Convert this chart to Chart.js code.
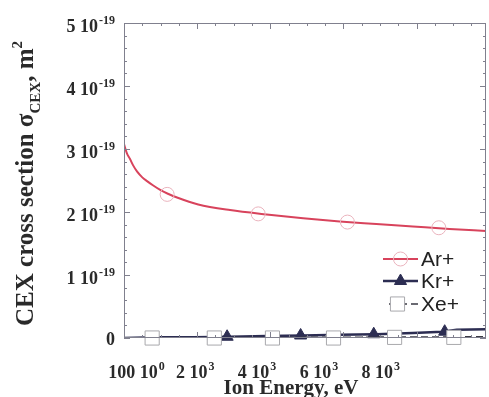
<!DOCTYPE html>
<html>
<head>
<meta charset="utf-8">
<script src="https://cdn.jsdelivr.net/npm/chart.js@4/dist/chart.umd.min.js"></script>
<style>
  html, body { margin: 0; padding: 0; background: #ffffff; }
  #wrap { width: 489px; height: 397px; }
</style>
</head>
<body>
<div id="wrap"><canvas id="c" width="489" height="397"></canvas></div>
<script>
// Charge-exchange (CEX) cross sections vs. ion energy.
// Cross sections are given in units of 1e-19 m^2, energies in eV.
const energyAr = [100, 130, 180, 265, 350, 460, 600, 730, 900, 1090, 1300, 1550, 2130, 3000, 4000, 5000, 6000, 7000, 8000, 9000, 10000];
const sigmaAr  = [3.08, 3.02, 2.93, 2.84, 2.74, 2.64, 2.55, 2.49, 2.42, 2.35, 2.29, 2.23, 2.12, 2.03, 1.96, 1.90, 1.85, 1.81, 1.77, 1.73, 1.70];
const markEnergyAr = [1280, 3770, 6210, 8710];
const markSigmaAr  = [2.28, 1.97, 1.84, 1.75];

const energyKr = [100, 1000, 2000, 3000, 4000, 5000, 6000, 7000, 8000, 8800, 9200, 10000];
const sigmaKr  = [0.00, 0.01, 0.01, 0.02, 0.03, 0.04, 0.05, 0.06, 0.08, 0.10, 0.13, 0.14];
const markEnergyKr = [2920, 4930, 6930, 8870];
const markSigmaKr  = [0.02, 0.04, 0.06, 0.10];

const energyXe = [100, 5000, 10000];
const sigmaXe  = [0.00, 0.01, 0.02];
const markEnergyXe = [870, 2570, 4160, 5830, 7500, 9120];
const markSigmaXe  = [0.00, 0.00, 0.00, 0.00, 0.01, 0.01];

// Axis ticks and their labels (mantissa + power of ten)
const xTickValues   = [100, 2000, 4000, 6000, 8000];
const xTickMantissa = ['100', '2', '4', '6', '8'];
const xTickExponent = ['0', '3', '3', '3', '3'];
const xMajorStep = 2000, xMinorStep = 500;

const yTickValues   = [0, 1, 2, 3, 4, 5];
const yTickMantissa = ['0', '1', '2', '3', '4', '5'];
const yTickExponent = ['', '-19', '-19', '-19', '-19', '-19'];
const yMajorStep = 1, yMinorStep = 0.2;

const seriesNames = ['Ar+', 'Kr+', 'Xe+'];

const AR_COLOR = '#d8435c';
const AR_MARK = '#eab3bd';
const KR_COLOR = '#2c2d52';
const XE_LINE = '#3a3a44';
const XE_MARK = '#a9a9ad';

const pts = (xs, ys) => xs.map((x, i) => ({ x: x, y: ys[i] }));

const SERIF = '"Liberation Serif", "Times New Roman", serif';
const SANS = '"Liberation Sans", Arial, sans-serif';

function drawPowerLabel(ctx, mant, exp, x, baseline, align, mainSize, supSize) {
  const mainFont = 'bold ' + mainSize + 'px ' + SERIF;
  const supFont = 'bold ' + supSize + 'px ' + SERIF;
  const mainText = exp ? mant + ' 10' : mant;
  ctx.font = mainFont;
  const wMain = ctx.measureText(mainText).width;
  ctx.font = supFont;
  const wSup = exp ? ctx.measureText(exp).width + 1 : 0;
  const total = wMain + wSup;
  let left = x;
  if (align === 'right') left = x - total;
  else if (align === 'center') left = x - total / 2;
  ctx.textAlign = 'left';
  ctx.textBaseline = 'alphabetic';
  ctx.font = mainFont;
  ctx.fillText(mainText, left, baseline);
  if (exp) {
    ctx.font = supFont;
    ctx.fillText(exp, left + wMain + 1, baseline - 8);
  }
}

const framePlugin = {
  id: 'frameAndText',
  afterDraw(chart) {
    const ctx = chart.ctx;
    const a = chart.chartArea;
    const xs = chart.scales.x, ys = chart.scales.y, xl = chart.scales.xl;
    ctx.save();

    // plot frame
    ctx.strokeStyle = '#80808e';
    ctx.lineWidth = 1;
    ctx.strokeRect(a.left + 0.5, a.top + 0.5, a.right - a.left - 1, a.bottom - a.top - 1);

    // inward tick marks on all four sides
    ctx.beginPath();
    for (let v = xs.min; v <= xs.max + 1e-6; v += xMinorStep) {
      const major = Math.abs(((v - xs.min) / xMajorStep) - Math.round((v - xs.min) / xMajorStep)) < 1e-6;
      const len = major ? 6 : 3;
      const px = Math.round(xs.getPixelForValue(v)) + 0.5;
      ctx.moveTo(px, a.bottom); ctx.lineTo(px, a.bottom - len);
      ctx.moveTo(px, a.top); ctx.lineTo(px, a.top + len);
    }
    for (let v = ys.min; v <= ys.max + 1e-6; v += yMinorStep) {
      const major = Math.abs(v / yMajorStep - Math.round(v / yMajorStep)) < 1e-6;
      const len = major ? 6 : 3;
      const py = Math.round(ys.getPixelForValue(v)) + 0.5;
      ctx.moveTo(a.left, py); ctx.lineTo(a.left + len, py);
      ctx.moveTo(a.right, py); ctx.lineTo(a.right - len, py);
    }
    ctx.stroke();

    ctx.fillStyle = '#2a2a2a';
    // y tick labels
    yTickValues.forEach((v, i) => {
      const py = ys.getPixelForValue(v);
      const base = yTickExponent[i] ? py + 9 : py + 7;
      drawPowerLabel(ctx, yTickMantissa[i], yTickExponent[i], a.left - 9, base, 'right', 18, 12);
    });
    // x tick labels
    xTickValues.forEach((v, i) => {
      const px = xl.getPixelForValue(v);
      drawPowerLabel(ctx, xTickMantissa[i], xTickExponent[i], px, a.bottom + 40, 'center', 18, 12);
    });

    // x axis title
    ctx.font = 'bold 21px ' + SERIF;
    ctx.textAlign = 'center';
    ctx.textBaseline = 'alphabetic';
    ctx.fillText('Ion Energy, eV', (a.left + a.right) / 2 - 14, 394);

    // y axis title, rotated, with subscript and superscript
    const parts = [
      { t: 'CEX cross section \u03c3', size: 25, dy: 0 },
      { t: 'CEX', size: 15, dy: 7 },
      { t: ', m', size: 25, dy: 0 },
      { t: '2', size: 15, dy: -11 }
    ];
    let total = 0;
    parts.forEach(p => { ctx.font = 'bold ' + p.size + 'px ' + SERIF; p.w = ctx.measureText(p.t).width; total += p.w; });
    ctx.translate(33, (a.top + a.bottom) / 2 + 3);
    ctx.rotate(-Math.PI / 2);
    ctx.textAlign = 'left';
    let u = -total / 2;
    parts.forEach(p => {
      ctx.font = 'bold ' + p.size + 'px ' + SERIF;
      ctx.fillText(p.t, u, p.dy);
      u += p.w;
    });
    ctx.setTransform(1, 0, 0, 1, 0, 0);

    // legend: line sample with marker, then series name
    const lineDs = [chart.data.datasets[0], chart.data.datasets[2], chart.data.datasets[4]];
    const markDs = [chart.data.datasets[1], chart.data.datasets[3], chart.data.datasets[5]];
    const rowY = [259, 281, 304];
    const lx0 = a.right - 103, lx1 = a.right - 68, textX = a.right - 65;
    for (let i = 0; i < 3; i++) {
      const y = rowY[i];
      ctx.save();
      ctx.strokeStyle = lineDs[i].borderColor;
      ctx.lineWidth = lineDs[i].borderWidth;
      ctx.setLineDash(lineDs[i].borderDash || []);
      ctx.beginPath();
      ctx.moveTo(i === 2 ? lx0 + 6 : lx0, y);
      ctx.lineTo(lx1, y);
      ctx.stroke();
      ctx.restore();
      const md = markDs[i];
      ctx.save();
      ctx.fillStyle = md.pointBackgroundColor;
      ctx.strokeStyle = md.pointBorderColor;
      ctx.lineWidth = md.pointBorderWidth;
      Chart.helpers.drawPoint(ctx, {
        pointStyle: md.pointStyle,
        radius: md.pointRadius,
        rotation: 0,
        borderWidth: md.pointBorderWidth
      }, (lx0 + lx1) / 2 + (i === 2 ? -3 : 0), y);
      ctx.restore();
      ctx.font = '21px ' + SANS;
      ctx.fillStyle = '#222';
      ctx.textAlign = 'left';
      ctx.textBaseline = 'middle';
      ctx.fillText(seriesNames[i], textX, y + 1);
    }
    ctx.restore();
  }
};

new Chart(document.getElementById('c'), {
  type: 'line',
  data: {
    datasets: [
      { label: 'Ar+', data: pts(energyAr, sigmaAr), borderColor: AR_COLOR, borderWidth: 2,
        pointRadius: 0, tension: 0.4, cubicInterpolationMode: 'monotone', order: 6 },
      { label: 'Ar+ markers', data: pts(markEnergyAr, markSigmaAr), showLine: false,
        pointStyle: 'circle', pointRadius: 7, pointBorderWidth: 1,
        pointBackgroundColor: 'rgba(255,255,255,0)', pointBorderColor: AR_MARK, clip: false, order: 5 },
      { label: 'Kr+', data: pts(energyKr, sigmaKr), borderColor: KR_COLOR, borderWidth: 2.5,
        pointRadius: 0, tension: 0, order: 4 },
      { label: 'Kr+ markers', data: pts(markEnergyKr, markSigmaKr), showLine: false,
        pointStyle: 'triangle', pointRadius: 7, pointBorderWidth: 1,
        pointBackgroundColor: KR_COLOR, pointBorderColor: KR_COLOR, clip: false, order: 3 },
      { label: 'Xe+', data: pts(energyXe, sigmaXe), borderColor: XE_LINE, borderWidth: 1.5,
        borderDash: [7, 4], pointRadius: 0, tension: 0, order: 2 },
      { label: 'Xe+ markers', data: pts(markEnergyXe, markSigmaXe), showLine: false,
        pointStyle: 'rect', pointRadius: 10, pointBorderWidth: 1,
        pointBackgroundColor: '#ffffff', pointBorderColor: XE_MARK, clip: false, order: 1 }
    ]
  },
  options: {
    responsive: false,
    animation: false,
    devicePixelRatio: 1,
    layout: { autoPadding: false, padding: { left: 124, right: 3, top: 23, bottom: 59 } },
    plugins: { legend: { display: false }, tooltip: { enabled: false } },
    scales: {
      x: { type: 'linear', min: 100, max: 10000, display: false },
      xl: { type: 'linear', axis: 'x', position: 'bottom', min: -300, max: 11400, display: false },
      y: { type: 'linear', min: 0, max: 5, display: false }
    }
  },
  plugins: [framePlugin]
});
</script>
</body>
</html>
